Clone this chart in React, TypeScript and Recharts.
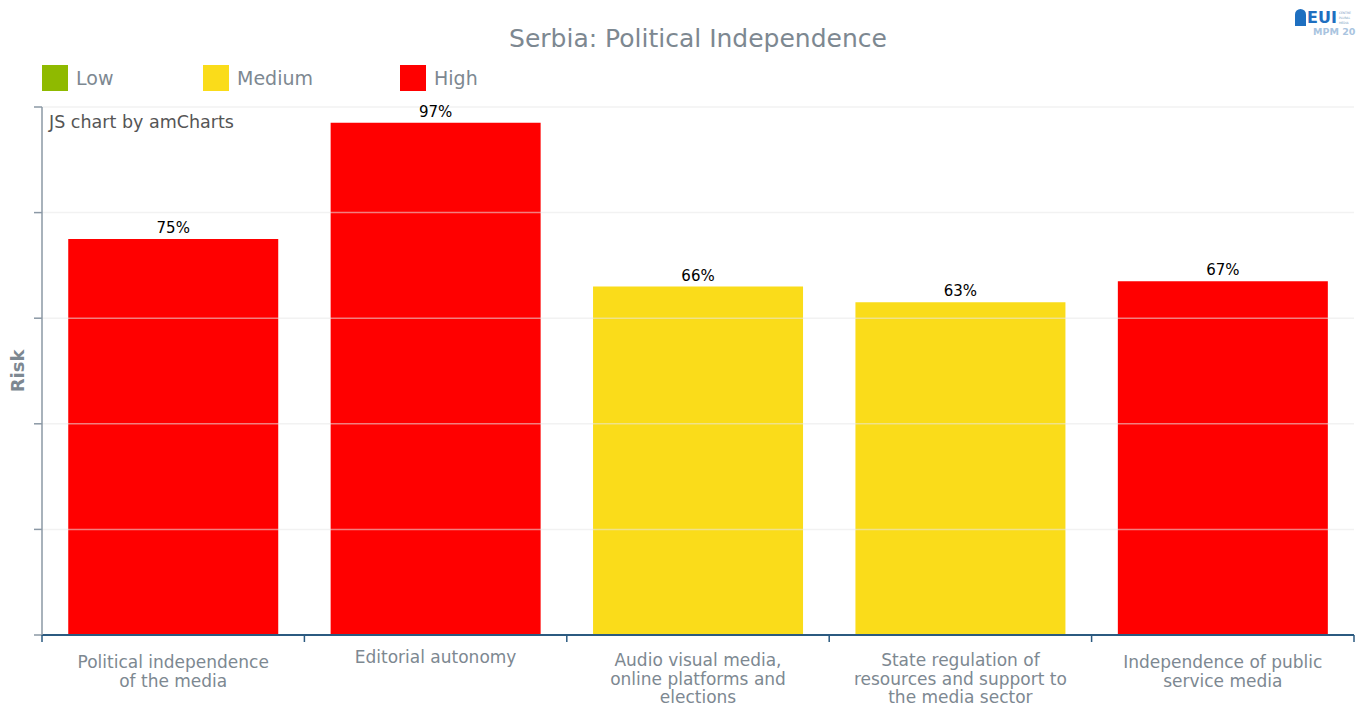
import { BarChart, Bar, XAxis, YAxis, Cell, LabelList, ReferenceLine } from 'recharts'

const CATEGORIES = [
  'Political independence of the media',
  'Editorial autonomy',
  'Audio visual media, online platforms and elections',
  'State regulation of resources and support to the media sector',
  'Independence of public service media',
]
// tick labels as wrapped in the original
const TICK_LINES = [
  ['Political independence', 'of the media'],
  ['Editorial autonomy'],
  ['Audio visual media,', 'online platforms and', 'elections'],
  ['State regulation of', 'resources and support to', 'the media sector'],
  ['Independence of public', 'service media'],
]
const VALUES = [75, 97, 66, 63, 67]
const LEVELS = ['High', 'High', 'Medium', 'Medium', 'High']
const LEGEND_ITEMS = ['Low', 'Medium', 'High']
const Y_TICKS = [0, 20, 40, 60, 80, 100]

const LEVEL_COLORS: Record<string, string> = {
  Low: '#8FBA00',
  Medium: '#FADC1A',
  High: '#FF0000',
}

const FONT = '"DejaVu Sans", Verdana, sans-serif'
const GRAY = '#7d8891'

const data = CATEGORIES.map((name, i) => ({ name, value: VALUES[i], level: LEVELS[i] }))

function CategoryTick(props: any) {
  const { x, y, payload, index, visibleTicksCount } = props
  const half = payload?.offset || 131.2
  const lineColor = '#2b5a80'
  const lines = TICK_LINES[index] || [payload.value]
  const startY = y + (lines.length === 1 ? 28 : lines.length === 3 ? 31 : 33)
  return (
    <g>
      <line x1={x - half} y1={y} x2={x - half} y2={y + 7} stroke={lineColor} strokeWidth={1.5} />
      {index === visibleTicksCount - 1 && (
        <line x1={x + half} y1={y} x2={x + half} y2={y + 7} stroke={lineColor} strokeWidth={1.5} />
      )}
      <text x={x} y={startY} textAnchor="middle" fill={GRAY} fontSize={17} fontFamily={FONT}>
        {lines.map((l: string, i: number) => (
          <tspan key={i} x={x} dy={i === 0 ? 0 : 18.5}>
            {l}
          </tspan>
        ))}
      </text>
    </g>
  )
}

function RiskLabel() {
  return (
    <text
      x={24}
      y={371}
      transform="rotate(-90, 24, 371)"
      textAnchor="middle"
      fill={GRAY}
      fontSize={18}
      fontWeight="bold"
      fontFamily={FONT}
    >
      Risk
    </text>
  )
}

export default function App() {
  return (
    <div style={{ position: 'absolute', left: 0, top: 0, width: 1358, height: 706, background: '#fff', fontFamily: FONT }}>
      <div style={{ position: 'absolute', left: 0, width: 1396, top: 24, textAlign: 'center', fontSize: 25, color: GRAY }}>
        Serbia: Political Independence
      </div>

      <div style={{ position: 'absolute', left: 42, top: 65, display: 'flex' }}>
        {LEGEND_ITEMS.map((item, i) => (
          <div key={item} style={{ display: 'flex', alignItems: 'center', width: i === 0 ? 161 : 197 }}>
            <div style={{ width: 26, height: 26, background: LEVEL_COLORS[item] }} />
            <span style={{ marginLeft: 8, fontSize: 19, color: GRAY }}>{item}</span>
          </div>
        ))}
      </div>

      {/* logo */}
      <div style={{ position: 'absolute', left: 1295, top: 9, width: 63, height: 34 }}>
        <div style={{ display: 'flex', alignItems: 'flex-end' }}>
          <div style={{ width: 11, height: 17, background: '#1e6fc0', borderRadius: '6px 6px 0 0' }} />
          <span style={{ fontSize: 16, fontWeight: 'bold', color: '#1e6fc0', lineHeight: '17px', marginLeft: 1 }}>EUI</span>
          <span style={{ fontSize: 3, color: '#7a9cc0', lineHeight: '5px', marginLeft: 2, whiteSpace: 'nowrap' }}>
            CENTRE<br />PLURAL<br />MEDIA
          </span>
        </div>
        <div style={{ fontSize: 9.5, fontWeight: 'bold', color: '#a9c4e0', marginLeft: 18, whiteSpace: 'nowrap' }}>MPM 20</div>
      </div>

      <div style={{ position: 'absolute', left: 49, top: 112, fontSize: 17.5, color: '#555' }}>JS chart by amCharts</div>

      <BarChart
        width={1358}
        height={706}
        data={data}
        margin={{ top: 107, right: 4, left: 41, bottom: 0 }}
        barCategoryGap="10%"
      >
        <XAxis
          dataKey="name"
          height={71}
          interval={0}
          tickSize={0}
          tickMargin={0}
          tickLine={false}
          axisLine={{ stroke: '#2b5a80', strokeWidth: 2 }}
          tick={<CategoryTick />}
        />
        <YAxis
          width={1}
          domain={[0, 100]}
          ticks={Y_TICKS}
          tick={() => <g />}
          tickSize={8}
          tickLine={{ stroke: '#8b98a5', strokeWidth: 1.5 }}
          axisLine={{ stroke: '#8b98a5', strokeWidth: 1.5 }}
          label={<RiskLabel />}
        />
        <Bar dataKey="value" isAnimationActive={false}>
          {data.map((d, i) => (
            <Cell key={i} fill={LEVEL_COLORS[d.level]} />
          ))}
          <LabelList
            dataKey="value"
            position="top"
            offset={6}
            fill="#000"
            fontSize={15}
            fontFamily={FONT}
            formatter={(v: any) => `${v}%`}
          />
        </Bar>
        {Y_TICKS.slice(1).map(t => (
          <ReferenceLine key={t} y={t} stroke="#e8e8e8" strokeOpacity={0.55} strokeWidth={1.5} />
        ))}
      </BarChart>
    </div>
  )
}
